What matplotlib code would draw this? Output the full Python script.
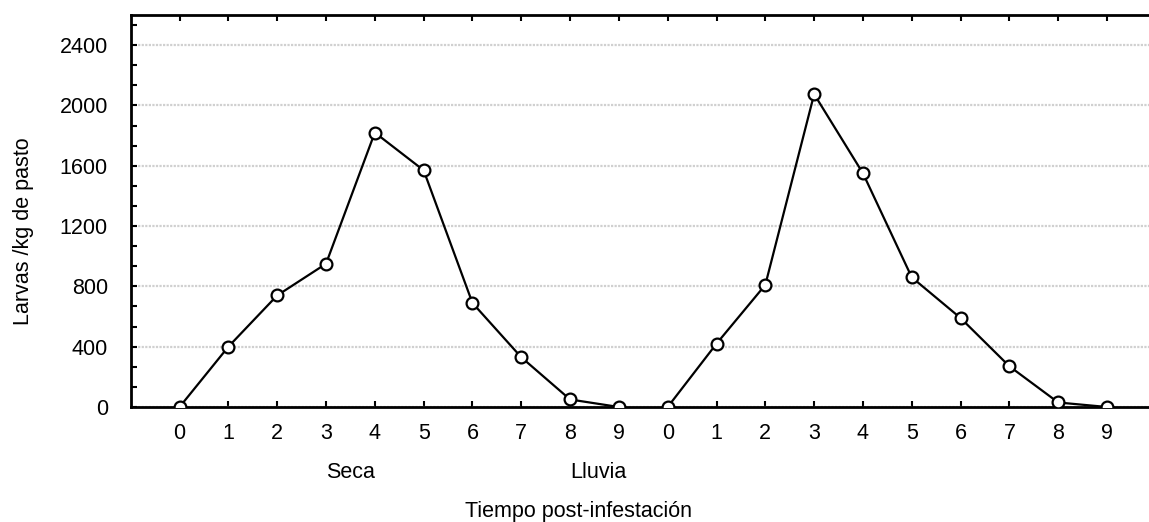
import numpy as np
import matplotlib

matplotlib.use("Agg")
import matplotlib.pyplot as plt
from matplotlib.ticker import MultipleLocator
from matplotlib.transforms import blended_transform_factory

plt.rcParams["font.family"] = ["Liberation Sans", "DejaVu Sans"]

# Datos
tiempo = list(range(10))
seca = [0, 400, 740, 950, 1820, 1570, 690, 330, 50, 0]
lluvia = [0, 420, 810, 2075, 1550, 860, 590, 270, 30, 0]
grupos = ["Seca", "Lluvia"]

FS = 15.5

fig = plt.figure(figsize=(11.49, 5.22), dpi=100)
ax = fig.add_axes([0.1138, 0.2203, 0.8862, 0.751])

x_seca = np.arange(len(seca))
x_lluvia = np.arange(len(lluvia)) + len(seca)
style = dict(color="black", lw=1.6, marker="o", ms=8.5, mfc="white",
             mec="black", mew=1.6, zorder=3)
ax.plot(x_seca, seca, **style)
ax.plot(x_lluvia, lluvia, **style)

ax.set_xlim(-1, 19.86)
ax.set_ylim(0, 2600)
ax.set_xticks(np.concatenate([x_seca, x_lluvia]))
ax.set_xticklabels([str(t) for t in tiempo] * 2)
ax.yaxis.set_major_locator(MultipleLocator(400))
ax.yaxis.set_minor_locator(MultipleLocator(400 / 3))

ax.tick_params(axis="x", direction="in", top=True, length=4, width=1.5,
               labelsize=FS, pad=11.5)
ax.tick_params(axis="y", which="both", direction="in", length=4, width=1.5,
               labelsize=FS, pad=16.5)
ax.grid(axis="y", which="major", color="#d0d0d0", ls=(0, (1, 0.6)), lw=1.6)
ax.set_axisbelow(True)

for side in ("left", "top", "bottom"):
    ax.spines[side].set_linewidth(2)
ax.spines["right"].set_visible(False)

trans = blended_transform_factory(ax.transData, fig.transFigure)
ax.text(3.0, 1 - 472 / 522, grupos[0], transform=trans, ha="left",
        va="center", fontsize=FS)
ax.text(8.0, 1 - 472 / 522, grupos[1], transform=trans, ha="left",
        va="center", fontsize=FS)

fig.text(465 / 1149, 1 - 512 / 522, "Tiempo post-infestación", ha="left",
         va="center", fontsize=FS)
fig.text(24 / 1149, 1 - 231 / 522, "Larvas /kg de pasto", rotation=90,
         ha="center", va="center", fontsize=FS)

fig.savefig("out.png", dpi=100)
